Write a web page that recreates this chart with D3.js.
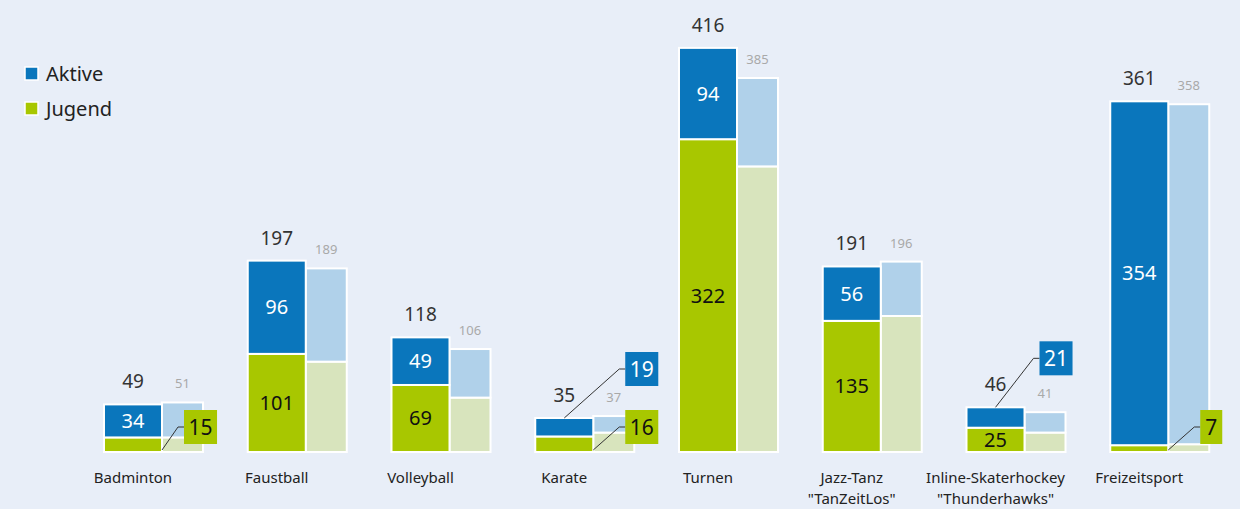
<!DOCTYPE html>
<html>
<head>
<meta charset="utf-8">
<script src="https://cdn.jsdelivr.net/npm/d3@7"></script>
<style>
  body { margin: 0; background: #e8eef8; }
  svg { display: block; font-family: "Noto Sans", "Open Sans", sans-serif; }
</style>
</head>
<body>
<svg id="chart" width="1240" height="509"></svg>
<script>
// Data.
const categories = ["Badminton", "Faustball", "Volleyball", "Karate", "Turnen",
  "Jazz-Tanz\n\"TanZeitLos\"", "Inline-Skaterhockey\n\"Thunderhawks\"", "Freizeitsport"];
const aktive = [34, 96, 49, 19, 94, 56, 21, 354];
const jugend = [15, 101, 69, 16, 322, 135, 25, 7];
const aktivePrev = [36, 96, 50, 17, 91, 56, 21, 350];
const jugendPrev = [15, 93, 56, 20, 294, 140, 20, 8];
const seriesNames = ["Aktive", "Jugend"];

const colors = {
  aktive: "#0a76bc",
  jugend: "#a8c700",
  aktivePrev: "#b0d1ea",
  jugendPrev: "#d8e4bd",
};

const svg = d3.select("#chart");
const baseline = 452;

// Scales.
const x = d3.scaleBand().domain(categories).range([62, 1212]);
const y = d3.scaleLinear().domain([0, 420]).range([baseline, 44]);

const curX = (i) => x(categories[i]) + 42;
const curW = 58;
const prevX = (i) => x(categories[i]) + 100;
const prevW = 41;

// callout horizontal offset from current bar right edge (layout only)
const calloutDx = { 0: 22, 3: 32, 6: 15, 7: 32 };

const g = svg.append("g");

categories.forEach((cat, i) => {
  const grp = g.append("g").attr("class", "group");
  const a = aktive[i], j = jugend[i];
  const ap = aktivePrev[i], jp = jugendPrev[i];

  // previous year bar
  grp.append("rect")
    .attr("x", prevX(i)).attr("width", prevW)
    .attr("y", y(jp)).attr("height", baseline - y(jp))
    .attr("fill", colors.jugendPrev).attr("stroke", "#fff").attr("stroke-width", 2);
  grp.append("rect")
    .attr("x", prevX(i)).attr("width", prevW)
    .attr("y", y(jp + ap)).attr("height", y(jp) - y(jp + ap))
    .attr("fill", colors.aktivePrev).attr("stroke", "#fff").attr("stroke-width", 2);

  // current bar
  grp.append("rect")
    .attr("x", curX(i)).attr("width", curW)
    .attr("y", y(j)).attr("height", baseline - y(j))
    .attr("fill", colors.jugend).attr("stroke", "#fff").attr("stroke-width", 2);
  grp.append("rect")
    .attr("x", curX(i)).attr("width", curW)
    .attr("y", y(j + a)).attr("height", y(j) - y(j + a))
    .attr("fill", colors.aktive).attr("stroke", "#fff").attr("stroke-width", 2);

  // totals
  grp.append("text")
    .attr("x", curX(i) + curW / 2).attr("y", y(a + j) - 16)
    .attr("text-anchor", "middle").attr("font-size", 19).attr("fill", "#333")
    .text(a + j);
  grp.append("text")
    .attr("x", prevX(i) + prevW / 2).attr("y", y(ap + jp) - 14)
    .attr("text-anchor", "middle").attr("font-size", 13).attr("fill", "#a9a9a9")
    .text(ap + jp);

  // segment labels
  const cx = curX(i) + curW / 2;
  const right = curX(i) + curW;
  const dx = calloutDx[i] || 22;

  function callout(val, fill, txtFill, boxMid, x0, y0) {
    const t = grp.append("text")
      .attr("font-size", 21).attr("fill", txtFill)
      .attr("text-anchor", "middle").text(val);
    const tw = t.node().getComputedTextLength();
    const bw = Math.max(22, tw + 9), bh = 34;
    const bx = right + dx;
    grp.insert("path", "text")
      .attr("d", `M${x0},${y0}L${bx - 6},${boxMid}L${bx},${boxMid}`)
      .attr("fill", "none").attr("stroke", "#333").attr("stroke-width", 1);
    grp.insert("rect", "text")
      .attr("x", bx).attr("y", boxMid - bh / 2).attr("width", bw).attr("height", bh)
      .attr("fill", fill);
    t.attr("x", bx + bw / 2).attr("y", boxMid + 7.5);
  }

  if (a >= 22) {
    grp.append("text")
      .attr("x", cx).attr("y", (y(j) + y(j + a)) / 2 + 7)
      .attr("text-anchor", "middle").attr("font-size", 20).attr("fill", "#fff")
      .text(a);
  } else {
    callout(a, colors.aktive, "#fff", y(a + j) - 49, cx, y(a + j));
  }

  if (j >= 22) {
    grp.append("text")
      .attr("x", cx).attr("y", (baseline + y(j)) / 2 + 7)
      .attr("text-anchor", "middle").attr("font-size", 20).attr("fill", "#111")
      .text(j);
  } else {
    callout(j, colors.jugend, "#111", baseline - 25, right, baseline - 2);
  }

  // category label
  const lines = cat.split("\n");
  const lbl = grp.append("text")
    .attr("text-anchor", "middle").attr("font-size", 15).attr("fill", "#222");
  lines.forEach((ln, k) => {
    lbl.append("tspan").attr("x", cx).attr("y", 483 + k * 21).text(ln);
  });
});

// Legend.
const legend = svg.append("g").attr("transform", "translate(25, 67)");
seriesNames.forEach((name, k) => {
  const row = legend.append("g").attr("transform", `translate(0, ${k * 35})`);
  row.append("rect")
    .attr("width", 13).attr("height", 13)
    .attr("fill", k === 0 ? colors.aktive : colors.jugend)
    .attr("stroke", "#fff").attr("stroke-width", 1.5);
  row.append("text")
    .attr("x", 21).attr("y", 14).attr("font-size", 20).attr("fill", "#222")
    .text(name);
});
</script>
</body>
</html>
